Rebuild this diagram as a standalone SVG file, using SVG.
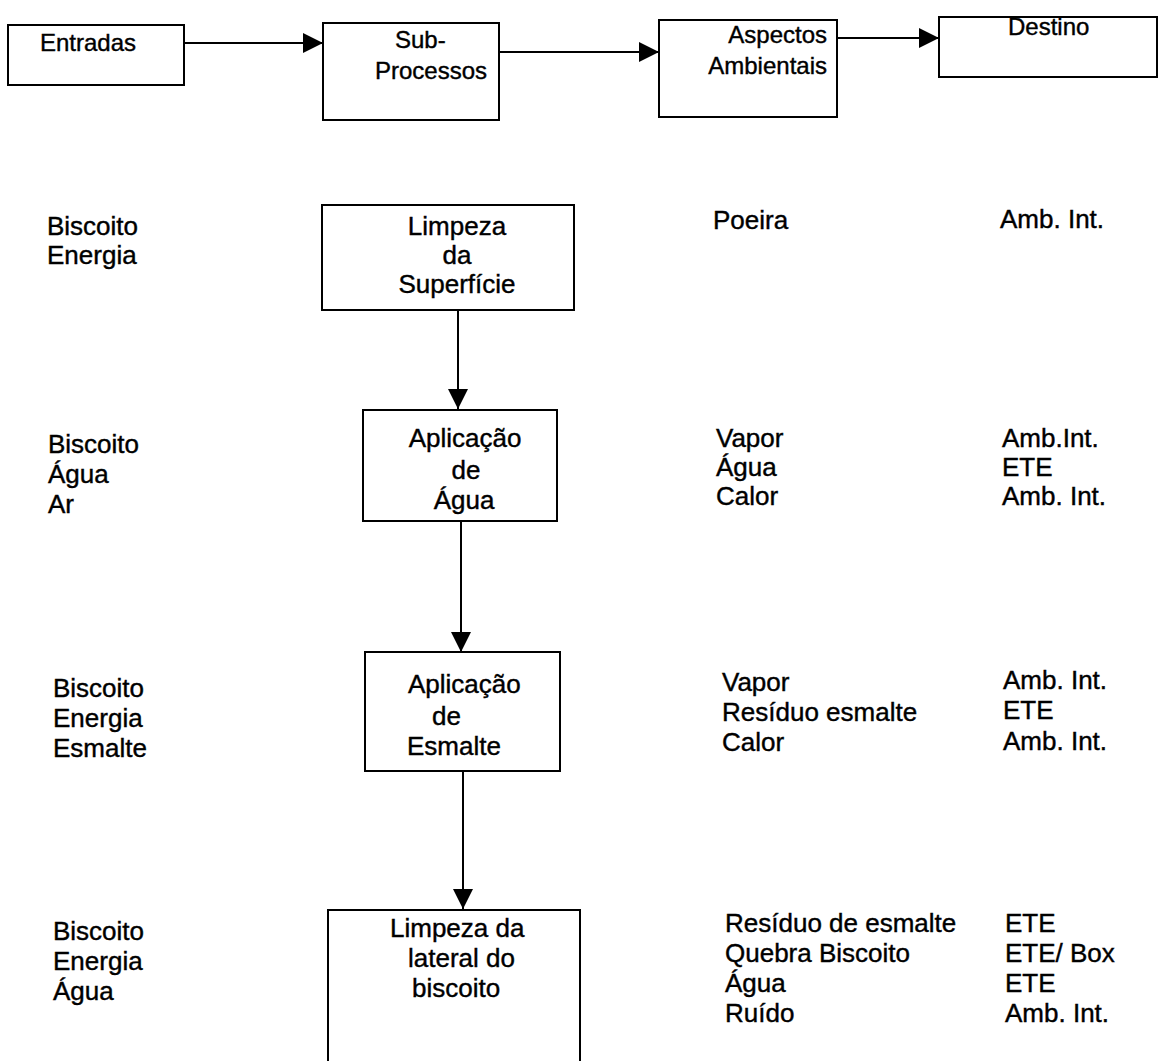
<svg xmlns="http://www.w3.org/2000/svg" width="1159" height="1061" viewBox="0 0 1159 1061">
  <style>
    .box { fill: #fff; stroke: #000; stroke-width: 2; }
    .hd { font-family: "Liberation Sans", Arial, sans-serif; font-size: 24px; fill: #000; stroke: #000; stroke-width: 0.4; }
    .tx { font-family: "Liberation Sans", Arial, sans-serif; font-size: 26px; fill: #000; stroke: #000; stroke-width: 0.4; }
    .link { fill: none; stroke: #000; stroke-width: 2; marker-end: url(#arrow); }
  </style>
  <defs>
    <marker id="arrow" viewBox="0 0 20 20" refX="20" refY="10" markerWidth="20" markerHeight="20" markerUnits="userSpaceOnUse" orient="auto">
      <path d="M0,0 L20,10 L0,20 z" fill="#000"/>
    </marker>
  </defs>
  <rect width="1159" height="1061" fill="#fff"/>

  <!-- connectors -->
  <g id="connectors">
    <line class="link" x1="184" y1="43" x2="323" y2="43"/>
    <line class="link" x1="499" y1="52" x2="659" y2="52"/>
    <line class="link" x1="837" y1="38" x2="939" y2="38"/>
    <line class="link" x1="458" y1="310" x2="458" y2="409"/>
    <line class="link" x1="461" y1="521" x2="461" y2="652"/>
    <line class="link" x1="463" y1="771" x2="463" y2="909"/>
  </g>

  <!-- header row -->
  <g id="entradas">
    <rect class="box" x="8" y="25" width="176" height="60"/>
    <text class="hd" x="40" y="51">Entradas</text>
  </g>
  <g id="subprocessos">
    <rect class="box" x="323" y="23" width="176" height="97"/>
    <text class="hd" x="395" y="48">Sub-</text>
    <text class="hd" x="375" y="79">Processos</text>
  </g>
  <g id="aspectos">
    <rect class="box" x="659" y="20" width="178" height="97"/>
    <text class="hd" x="827" y="43" text-anchor="end">Aspectos</text>
    <text class="hd" x="827" y="74" text-anchor="end">Ambientais</text>
  </g>
  <g id="destino">
    <rect class="box" x="939" y="17" width="218" height="60"/>
    <text class="hd" x="1008" y="35">Destino</text>
  </g>

  <!-- process chain -->
  <g id="limpeza-superficie">
    <rect class="box" x="322" y="205" width="252" height="105"/>
    <text class="tx" x="457" y="235" text-anchor="middle">Limpeza</text>
    <text class="tx" x="457" y="264" text-anchor="middle">da</text>
    <text class="tx" x="457" y="293" text-anchor="middle">Superfície</text>
  </g>
  <g id="aplicacao-agua">
    <rect class="box" x="363" y="410" width="194" height="111"/>
    <text class="tx" x="465" y="447" text-anchor="middle">Aplicação</text>
    <text class="tx" x="466" y="479" text-anchor="middle">de</text>
    <text class="tx" x="464" y="509" text-anchor="middle">Água</text>
  </g>
  <g id="aplicacao-esmalte">
    <rect class="box" x="365" y="652" width="195" height="119"/>
    <text class="tx" x="408" y="693">Aplicação</text>
    <text class="tx" x="432" y="725">de</text>
    <text class="tx" x="407" y="755">Esmalte</text>
  </g>
  <g id="limpeza-lateral">
    <rect class="box" x="328" y="910" width="252" height="170"/>
    <text class="tx" x="390" y="937">Limpeza da</text>
    <text class="tx" x="408" y="967">lateral do</text>
    <text class="tx" x="412" y="997">biscoito</text>
  </g>

  <!-- inputs column -->
  <g id="entradas-1">
    <text class="tx" x="47" y="235">Biscoito</text>
    <text class="tx" x="47" y="264">Energia</text>
  </g>
  <g id="entradas-2">
    <text class="tx" x="48" y="453">Biscoito</text>
    <text class="tx" x="48" y="483">Água</text>
    <text class="tx" x="48" y="513">Ar</text>
  </g>
  <g id="entradas-3">
    <text class="tx" x="53" y="697">Biscoito</text>
    <text class="tx" x="53" y="727">Energia</text>
    <text class="tx" x="53" y="757">Esmalte</text>
  </g>
  <g id="entradas-4">
    <text class="tx" x="53" y="940">Biscoito</text>
    <text class="tx" x="53" y="970">Energia</text>
    <text class="tx" x="53" y="1000">Água</text>
  </g>

  <!-- environmental aspects column -->
  <g id="aspectos-1">
    <text class="tx" x="713" y="229">Poeira</text>
  </g>
  <g id="aspectos-2">
    <text class="tx" x="716" y="447">Vapor</text>
    <text class="tx" x="716" y="476">Água</text>
    <text class="tx" x="716" y="505">Calor</text>
  </g>
  <g id="aspectos-3">
    <text class="tx" x="722" y="691">Vapor</text>
    <text class="tx" x="722" y="721">Resíduo esmalte</text>
    <text class="tx" x="722" y="751">Calor</text>
  </g>
  <g id="aspectos-4">
    <text class="tx" x="725" y="932">Resíduo de esmalte</text>
    <text class="tx" x="725" y="962">Quebra Biscoito</text>
    <text class="tx" x="725" y="992">Água</text>
    <text class="tx" x="725" y="1022">Ruído</text>
  </g>

  <!-- destination column -->
  <g id="destino-1">
    <text class="tx" x="1000" y="228">Amb. Int.</text>
  </g>
  <g id="destino-2">
    <text class="tx" x="1002" y="447">Amb.Int.</text>
    <text class="tx" x="1002" y="476">ETE</text>
    <text class="tx" x="1002" y="505">Amb. Int.</text>
  </g>
  <g id="destino-3">
    <text class="tx" x="1003" y="689">Amb. Int.</text>
    <text class="tx" x="1003" y="719">ETE</text>
    <text class="tx" x="1003" y="750">Amb. Int.</text>
  </g>
  <g id="destino-4">
    <text class="tx" x="1005" y="932">ETE</text>
    <text class="tx" x="1005" y="962">ETE/ Box</text>
    <text class="tx" x="1005" y="992">ETE</text>
    <text class="tx" x="1005" y="1022">Amb. Int.</text>
  </g>
</svg>
